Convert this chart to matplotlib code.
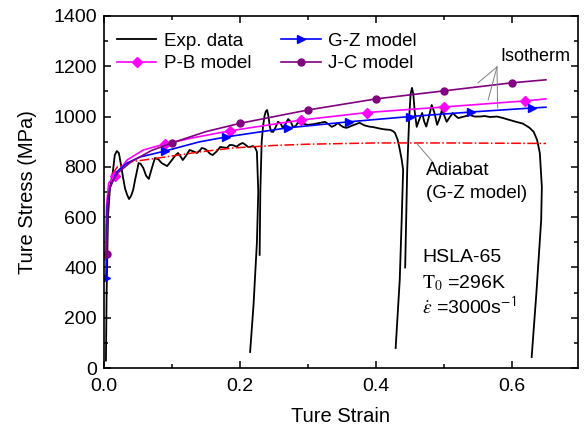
import matplotlib
matplotlib.use('Agg')
import matplotlib.pyplot as plt
from matplotlib.ticker import MultipleLocator

plt.rcParams['font.family'] = ['Liberation Sans', 'DejaVu Sans']
plt.rcParams['mathtext.fontset'] = 'stix'

## data
# experiment, three stitched tests
exp1_x = [0.003, 0.004, 0.006, 0.009, 0.013, 0.016, 0.019, 0.022, 0.025, 0.028, 0.031, 0.034, 0.037, 0.040,
          0.043, 0.046, 0.049, 0.051, 0.054, 0.058, 0.062, 0.066, 0.070, 0.075, 0.080, 0.085, 0.093, 0.100,
          0.105, 0.109, 0.113, 0.116, 0.121, 0.126, 0.131, 0.137, 0.141, 0.144, 0.148, 0.151, 0.156, 0.160,
          0.166, 0.171, 0.176, 0.181, 0.185, 0.190, 0.195, 0.200, 0.204, 0.208, 0.212, 0.216, 0.219, 0.222,
          0.225, 0.227, 0.225, 0.220, 0.215]
exp1_y = [30, 300, 600, 720, 776, 847, 863, 855, 810, 760, 715, 690, 672, 685,
          708, 750, 788, 815, 812, 795, 765, 752, 790, 835, 830, 815, 803, 827,
          845, 855, 840, 827, 845, 867, 862, 855, 865, 875, 872, 867, 852, 847,
          862, 879, 877, 875, 887, 886, 880, 890, 895, 888, 879, 880, 883, 878,
          860, 700, 500, 250, 64]
exp2_x = [0.229, 0.230, 0.232, 0.234, 0.236, 0.238, 0.240, 0.242, 0.244, 0.246, 0.249, 0.252, 0.256, 0.260,
          0.263, 0.267, 0.271, 0.275, 0.278, 0.282, 0.285, 0.292, 0.300, 0.309, 0.318, 0.325, 0.330, 0.335,
          0.340, 0.344, 0.347, 0.352, 0.357, 0.366, 0.376, 0.383, 0.390, 0.396, 0.401, 0.406, 0.410, 0.416,
          0.421, 0.425, 0.428, 0.432, 0.435, 0.438, 0.440, 0.438, 0.435, 0.429]
exp2_y = [450, 700, 900, 960, 1000, 1020, 1026, 1000, 959, 940, 939, 955, 979, 972,
          955, 970, 990, 978, 959, 962, 975, 972, 967, 970, 975, 979, 970, 959,
          965, 975, 967, 958, 955, 965, 975, 965, 960, 958, 955, 952, 950, 948,
          947, 942, 935, 907, 870, 827, 788, 600, 350, 80]
exp3_x = [0.443, 0.446, 0.449, 0.451, 0.453, 0.455, 0.457, 0.460, 0.464, 0.468, 0.471, 0.474, 0.478, 0.482,
          0.486, 0.490, 0.494, 0.497, 0.501, 0.504, 0.508, 0.513, 0.517, 0.521, 0.530, 0.538, 0.545, 0.553,
          0.560, 0.568, 0.578, 0.587, 0.597, 0.606, 0.616, 0.622, 0.626, 0.632, 0.637, 0.641, 0.644, 0.643,
          0.636, 0.629]
exp3_y = [400, 788, 1000, 1090, 1114, 1090, 1020, 959, 990, 1014, 980, 960, 1000, 1046,
          1015, 967, 995, 1026, 1000, 979, 995, 1014, 1003, 994, 1000, 1006, 1000, 1000,
          1002, 998, 1000, 994, 986, 979, 972, 962, 955, 939, 907, 855, 720, 589,
          300, 44]

# G-Z model (isotherm)
gz_x = [0.003, 0.005, 0.009, 0.019, 0.034, 0.053, 0.090, 0.140, 0.180, 0.270, 0.360, 0.450, 0.540, 0.630, 0.650]
gz_y = [358, 650, 716, 780, 815, 839, 863, 899, 919, 955, 979, 1000, 1018, 1034, 1037]
gz_mark = [0, 6, 8, 9, 10, 11, 12, 13]

# P-B model
pb_x = [0.0015, 0.004, 0.007, 0.016, 0.034, 0.058, 0.090, 0.130, 0.185, 0.290, 0.387, 0.500, 0.619, 0.650]
pb_y = [430, 650, 736, 762, 827, 867, 891, 915, 943, 986, 1016, 1038, 1062, 1070]
pb_mark = [3, 6, 8, 9, 10, 11, 12]

# J-C model
jc_x = [0.004, 0.006, 0.010, 0.020, 0.040, 0.070, 0.100, 0.150, 0.200, 0.300, 0.400, 0.500, 0.600, 0.650]
jc_y = [455, 680, 730, 775, 820, 865, 895, 940, 973, 1026, 1070, 1102, 1134, 1146]
jc_mark = [0, 6, 8, 9, 10, 11, 12]

# adiabat (G-Z model)
ad_x = [0.012, 0.020, 0.040, 0.090, 0.140, 0.190, 0.250, 0.300, 0.400, 0.500, 0.650]
ad_y = [770, 800, 820, 839, 859, 875, 885, 890, 895, 895, 893]

fig = plt.figure(figsize=(5.87, 4.30), dpi=100)
ax = fig.add_axes([0.177, 0.144, 0.8075, 0.819])

l_exp, = ax.plot(exp1_x, exp1_y, color='black', lw=1.3)
ax.plot(exp2_x, exp2_y, color='black', lw=1.3)
ax.plot(exp3_x, exp3_y, color='black', lw=1.3)
ax.plot(ad_x, ad_y, color='red', lw=1.1, ls='-.')
l_pb, = ax.plot(pb_x, pb_y, color='#FF00FF', lw=1.2, marker='D', ms=5, markevery=pb_mark)
l_gz, = ax.plot(gz_x, gz_y, color='#0000FF', lw=1.2, marker='>', ms=6, markevery=gz_mark)
l_jc, = ax.plot(jc_x, jc_y, color='#800080', lw=1.2, marker='o', ms=5, markevery=jc_mark)

ax.set_xlim(0, 0.697)
ax.set_ylim(0, 1400)
ax.xaxis.set_major_locator(MultipleLocator(0.2))
ax.xaxis.set_minor_locator(MultipleLocator(0.1))
ax.yaxis.set_major_locator(MultipleLocator(200))
ax.yaxis.set_minor_locator(MultipleLocator(100))
ax.tick_params(which='both', direction='in', top=True, right=True, labelsize=14, width=1.1)
ax.tick_params(which='major', length=5)
ax.tick_params(which='minor', length=3)
ax.tick_params(axis='x', pad=7)
ax.tick_params(axis='y', pad=5)
for s in ax.spines.values():
    s.set_linewidth(1.2)

ax.set_xlabel('Ture Strain', fontsize=14.5, labelpad=9)
ax.set_ylabel('Ture Stress (MPa)', fontsize=14.5, labelpad=12)

leg = ax.legend([l_exp, l_pb, l_gz, l_jc], ['Exp. data', 'P-B model', 'G-Z model', 'J-C model'],
                ncol=2, loc='upper left', bbox_to_anchor=(0.012, 0.974), borderaxespad=0,
                frameon=False, fontsize=13.5, handlelength=2.1, handletextpad=0.4,
                labelspacing=0.3, columnspacing=1.6)

# annotations
ax.text(0.634, 1237, 'Isotherm', fontsize=13, ha='center', va='center')
for tx, ty in [(0.550, 1134), (0.565, 1066), (0.579, 1034)]:
    ax.plot([0.578, tx], [1197, ty], color='gray', lw=0.7)
ax.plot([0.460, 0.484], [893, 818], color='gray', lw=0.7)
ax.text(0.474, 786, 'Adiabat', fontsize=13.5, ha='left', va='center')
ax.text(0.474, 694, '(G-Z model)', fontsize=13.5, ha='left', va='center')
ax.text(0.468, 438, 'HSLA-65', fontsize=14, ha='left', va='center')
ax.text(0.468, 338, r'$\mathrm{T}_0$ =296K', fontsize=14, ha='left', va='center')
ax.text(0.468, 242, r'$\dot{\varepsilon}$ =3000s$^{\mathsf{-1}}$', fontsize=14, ha='left', va='center')

fig.savefig('out.png', dpi=100)
